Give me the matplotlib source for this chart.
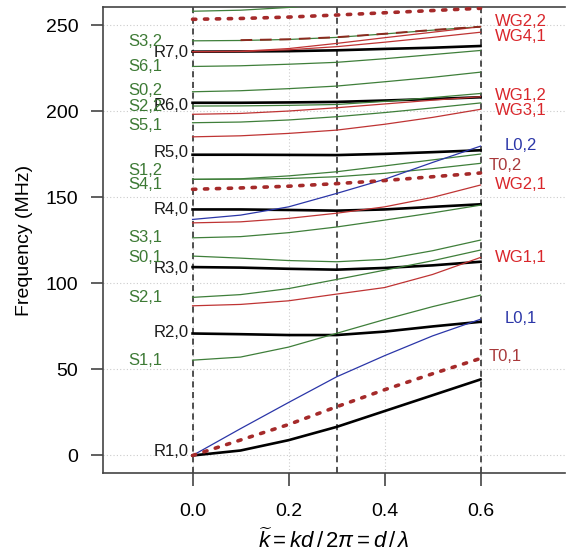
import matplotlib
matplotlib.use('Agg')
import matplotlib.pyplot as plt

plt.rcParams['font.family'] = ['Liberation Sans', 'DejaVu Sans']
plt.rcParams['mathtext.fontset'] = 'custom'
plt.rcParams['mathtext.rm'] = 'Liberation Sans'
plt.rcParams['mathtext.it'] = 'Liberation Sans:italic'

# normalised wavenumber grid
k = [0.0, 0.1, 0.2, 0.3, 0.4, 0.5, 0.6]

# R modes (black, thick)
r_modes = {
    'R1,0': [0.0, 2.9, 8.9, 16.6, 25.8, 35.0, 44.2],
    'R2,0': [70.9, 70.5, 70.0, 70.0, 72.0, 75.0, 77.7],
    'R3,0': [109.5, 109.2, 108.5, 108.0, 109.0, 110.5, 112.6],
    'R4,0': [143.0, 143.0, 142.7, 142.3, 143.0, 144.5, 146.0],
    'R5,0': [174.8, 174.8, 174.7, 174.6, 175.3, 176.3, 177.4],
    'R6,0': [205.0, 205.0, 205.2, 205.5, 206.3, 207.2, 208.2],
    'R7,0': [234.7, 234.8, 235.0, 235.5, 236.3, 237.0, 238.0],
}

# S modes (green)
s_modes = {
    'S1,1': [55.4, 57.2, 63.0, 71.0, 79.0, 86.5, 93.2],
    'S2,1': [91.9, 93.5, 97.0, 102.3, 107.7, 113.2, 119.4],
    'S0,1': [115.9, 114.7, 113.3, 112.6, 114.0, 119.0, 125.2],
    'S3,1': [126.5, 127.2, 129.5, 132.8, 136.8, 141.0, 145.5],
    'S4,1': [160.5, 160.6, 161.0, 162.0, 164.0, 166.7, 169.8],
    'S1,2': [160.5, 160.8, 162.5, 164.9, 168.3, 171.8, 175.2],
    'S5,1': [193.4, 193.8, 195.0, 196.9, 199.3, 202.0, 204.9],
    'S2,2': [203.1, 203.2, 203.5, 204.0, 205.8, 208.0, 210.4],
    'S0,2': [211.4, 212.0, 213.2, 214.7, 217.2, 219.8, 222.8],
    'S6,1': [226.1, 226.5, 227.4, 228.5, 230.6, 233.0, 235.4],
    'S3,2': [241.0, 241.2, 241.8, 243.0, 245.0, 247.2, 249.2],
    'top':  [258.2, 258.8, 260.4, 262.5, 265.0, 267.5, 270.0],
}

# WG modes (red, solid)
wg_modes = {
    'WG1,1': [87.0, 87.8, 89.9, 93.8, 97.6, 105.2, 115.1],
    'WG2,1': [135.2, 135.8, 137.8, 140.8, 144.5, 150.0, 157.2],
    'WG3,1': [185.2, 185.8, 187.2, 189.1, 192.5, 196.5, 201.2],
    'WG1,2': [198.3, 198.8, 200.2, 202.1, 204.3, 206.5, 208.5],
    'WG4,1': [234.7, 234.8, 235.8, 237.6, 240.2, 243.0, 246.0],
    'WG2,2': [234.7, 234.9, 236.5, 239.5, 242.8, 246.0, 249.2],
}
# short dashed dark red branch riding on S3,2
k_branch = [0.1, 0.2, 0.3, 0.4, 0.5, 0.6]
branch = [241.4, 241.9, 243.1, 245.1, 247.3, 249.2]

# T modes (dotted)
t_modes = {
    'T0,1': [0.0, 9.0, 18.0, 28.3, 38.2, 47.5, 56.4],
    'T0,2': [154.7, 155.5, 156.5, 158.0, 159.8, 162.0, 164.2],
    'T0,3': [253.5, 254.0, 254.8, 256.0, 257.3, 258.6, 259.9],
}

# L modes (blue)
l_modes = {
    'L0,1': [0.0, 15.6, 30.8, 45.7, 58.0, 69.5, 79.2],
    'L0,2': [137.2, 139.7, 144.5, 152.3, 160.5, 170.3, 179.8],
}

# labels: (text, y)
r_labels = [('R1,0', 2.3), ('R2,0', 71.3), ('R3,0', 108.7), ('R4,0', 143.0),
            ('R5,0', 176.0), ('R6,0', 203.3), ('R7,0', 234.3)]
s_labels = [('S1,1', 55.4), ('S2,1', 91.6), ('S0,1', 115.0), ('S3,1', 126.5),
            ('S4,1', 157.5), ('S1,2', 165.9), ('S5,1', 192.0), ('S2,2', 203.1),
            ('S0,2', 212.4), ('S6,1', 226.0), ('S3,2', 240.5)]
right_labels = [('WG2,2', 252.1, '#d9262b'), ('WG4,1', 243.8, '#d9262b'),
                ('WG1,2', 209.5, '#d9262b'), ('WG3,1', 200.3, '#d9262b'),
                ('T0,2', 168.8, '#a8383a'), ('WG2,1', 157.6, '#d9262b'),
                ('WG1,1', 115.1, '#d9262b'), ('T0,1', 57.7, '#a8383a')]
blue_labels = [('L0,2', 180.4), ('L0,1', 79.6)]

vlines_k = [0.0, 0.3, 0.6]

GREEN = '#3f7f3a'
RED = '#bf3434'
BLUE = '#2b36a8'
DOT = '#a52a2a'

fig = plt.figure(figsize=(5.66, 5.60), dpi=100)
ax = fig.add_axes([0.1825, 0.1559, 0.8157, 0.8311])

for x in vlines_k:
    ax.axvline(x, color='#222222', lw=1.1, dashes=(4, 3), zorder=1)

for name, f in r_modes.items():
    ax.plot(k, f, color='black', lw=1.9, zorder=3)
for name, f in s_modes.items():
    ax.plot(k, f, color=GREEN, lw=0.9, zorder=4)
for name, f in wg_modes.items():
    ax.plot(k, f, color=RED, lw=0.9, zorder=5)
ax.plot(k_branch, branch, color='#8b2a1e', lw=1.4, dashes=(6, 4), zorder=5)
for name, f in l_modes.items():
    ax.plot(k, f, color=BLUE, lw=0.9, zorder=6)
for name, f in t_modes.items():
    ax.plot(k, f, color=DOT, lw=2.6, dashes=(0.9, 2.4),
            dash_capstyle='round', zorder=6)

for txt, y in r_labels:
    ax.text(-0.008, y, txt, ha='right', va='center', fontsize=12, color='#1a1a1a')
for txt, y in s_labels:
    ax.text(-0.133, y, txt, ha='left', va='center', fontsize=12, color='#3d7a35')
for txt, y, c in right_labels:
    x0 = 0.617 if txt.startswith('T') else 0.629
    ax.text(x0, y, txt, ha='left', va='center', fontsize=12, color=c)
for txt, y in blue_labels:
    ax.text(0.650, y, txt, ha='left', va='center', fontsize=12, color=BLUE)

ax.set_xlim(-0.186, 0.776)
ax.set_ylim(-10, 260.5)
ax.set_xticks([0.0, 0.2, 0.4, 0.6])
ax.set_xticklabels(['0.0', '0.2', '0.4', '0.6'])
ax.set_yticks([0, 50, 100, 150, 200, 250])
ax.grid(True, color='#cccccc', linestyle=(0, (1, 2)), lw=0.8, zorder=0)
ax.set_axisbelow(True)

ax.spines['right'].set_visible(False)
for s in ['left', 'bottom', 'top']:
    ax.spines[s].set_color('#444444')
    ax.spines[s].set_linewidth(1.2)
ax.tick_params(axis='both', direction='out', length=9, width=1.2,
               color='#444444', labelsize=14)
ax.tick_params(axis='x', pad=13)
ax.tick_params(axis='y', pad=9)

ax.set_ylabel('Frequency (MHz)', fontsize=14, labelpad=9)
ax.set_xlabel(r'$\widetilde{k} = kd\,/\,2\pi = d\,/\,\lambda$', fontsize=16, labelpad=6)

fig.savefig('out.png', dpi=100)
